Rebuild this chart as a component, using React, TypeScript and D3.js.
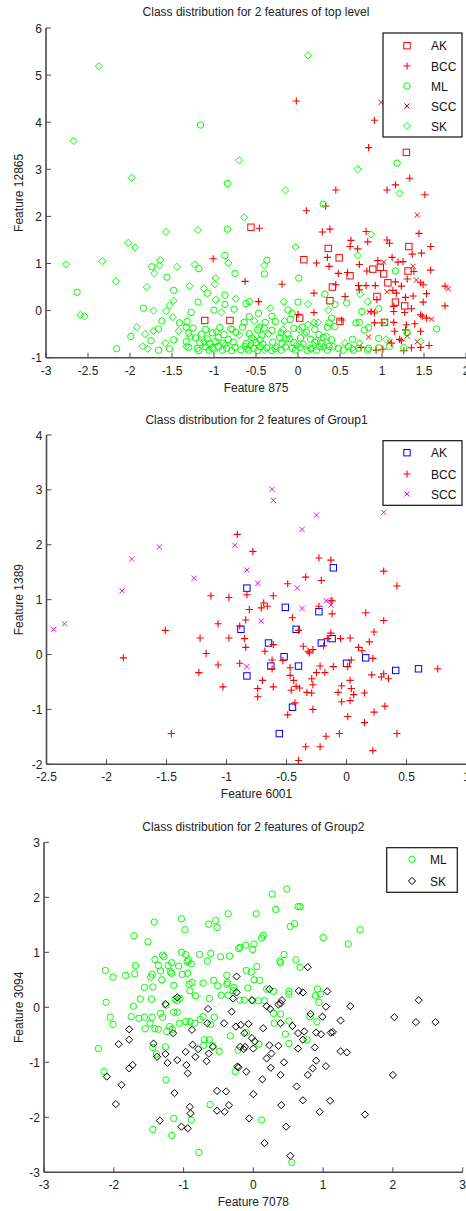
import React from "react";
import * as d3 from "d3";

type Pt = [number, number];

// ---------------- Panel 1: top level ----------------
const topXTicks = [-3, -2.5, -2, -1.5, -1, -0.5, 0, 0.5, 1, 1.5, 2];
const topYTicks = [-1, 0, 1, 2, 3, 4, 5, 6];

const topAK: Pt[] = [
  [-0.56, 1.77], [0.36, 1.32], [0.07, 1.08], [1.29, 3.36], [1.32, 1.36], [0.49, 1.12], [0.89, 0.88],
  [0.98, 0.92], [1.02, 0.78], [1.31, 0.84], [0.62, 0.74], [1.07, 0.59], [0.41, 0.5], [0.94, 0.3],
  [0.38, 0.21], [1.16, 0.18], [1.27, 0.1], [0.5, -0.23], [1.03, -0.25], [0.02, -0.16], [-1.11, -0.21],
  [-0.81, -0.21],
];

const topBCC: Pt[] = [
  [-0.02, 4.45], [0.91, 4.04], [0.84, 3.46], [1.33, 2.81], [1.16, 2.67], [1.06, 2.56], [1.51, 2.46],
  [0.45, 2.56], [0.38, 1.73], [0.81, 1.68], [1.44, 1.64], [0.63, 1.49], [0.62, 1.36], [0.83, 1.46],
  [1.06, 1.5], [1.09, 1.43], [0.71, 1.31], [1.58, 1.36], [1.36, 1.2], [1.47, 1.22], [0.35, 1.13],
  [1.12, 1.13], [0.95, 1.06], [1.19, 1.03], [1.25, 1.04], [0.73, 0.98], [0.37, 0.94], [1.38, 0.83],
  [1.58, 0.86], [0.48, 0.79], [0.82, 0.84], [0.59, 0.81], [1.3, 0.67], [1.16, 0.61], [1.46, 0.59],
  [1.49, 0.55], [0.45, 0.55], [0.72, 0.53], [0.81, 0.53], [0.92, 0.53], [1.23, 0.52], [1.75, 0.52],
  [0.73, 0.44], [1.17, 0.37], [1.13, 0.43], [1.53, 0.36], [0.56, 0.3], [1.28, 0.28], [1.37, 0.31],
  [0.94, 0.23], [1.49, 0.18], [1.75, 0.1], [1.14, 0.09], [1.14, -0.02], [1.27, -0.04], [0.87, -0.02],
  [0.91, -0.05], [1.35, 0.04], [1.46, -0.09], [1.48, -0.12], [1.53, -0.16], [0.52, -0.2], [0.91, -0.26],
  [1.0, -0.26], [1.14, -0.25], [1.29, -0.3], [1.28, -0.41], [1.39, -0.28], [1.15, -0.44], [1.46, -0.44],
  [1.56, -0.74], [1.21, -0.61], [1.23, -0.64], [1.11, -0.69], [0.75, -0.78], [1.35, -0.79], [0.93, -0.84],
  [1.26, -0.85], [1.46, -0.78], [1.01, -0.82], [0.1, 2.12], [0.33, 2.22], [-0.46, 1.75], [0.29, 1.67],
  [-1.01, 1.1], [0.22, 1.01], [-0.63, 0.62], [-0.19, 0.56], [0.19, 0.37], [-0.47, 0.19], [0.0, -0.08],
  [0.19, -0.04],
];

const topML: Pt[] = [
  [-1.16, 3.94], [-0.84, 2.7], [1.18, 3.13], [1.16, 0.84], [0.32, 0.35], [0.44, 0.13], [0.58, 0.16],
  [0.76, -0.02], [0.96, 0.04], [0.4, -0.16], [0.37, -0.26], [0.35, -0.35], [0.44, -0.34], [0.69, -0.26],
  [0.73, -0.25], [0.79, -0.41], [0.84, -0.36], [1.3, -0.47], [1.65, -0.39], [1.26, -0.79], [1.09, -0.76],
  [0.96, -0.79], [0.84, -0.8], [0.65, -0.61], [0.34, -0.55], [0.4, -0.62], [0.37, -0.76], [0.48, -0.8],
  [0.54, -0.84], [0.6, -0.76], [0.66, -0.84], [0.72, -0.8], [0.83, -0.84], [0.96, -0.59], [1.03, -0.25],
  [0.3, 2.26], [-0.84, 1.73], [-0.87, 1.17], [-0.37, 1.07], [-1.18, 0.89], [-0.4, 0.78], [-0.75, 0.79],
  [-1.08, 0.37], [0.01, 0.69], [-0.87, 0.33], [-1.19, 0.18], [-0.62, 0.15], [-0.58, 0.19], [0.0, 0.18],
  [-0.87, 0.13], [-1.0, 0.01], [-0.76, 0.03], [-0.47, -0.06], [-0.31, -0.12], [-0.12, 0.01], [-0.07, -0.06],
  [-1.27, -0.04], [-0.58, -0.13], [-0.64, -0.25], [-0.39, -0.25], [-0.27, -0.23], [-0.09, -0.19],
  [-1.32, -0.23], [-2.63, 0.39], [-1.74, 0.93], [-1.56, 0.71], [-1.48, 0.43], [-1.84, 0.05], [-1.41, -0.26],
  [-1.62, -0.22], [-1.66, -0.39], [-1.99, -0.55], [-1.75, -0.64], [-2.16, -0.81], [-1.66, -0.84],
  [-1.53, -0.81], [-1.48, -0.62], [-1.33, -0.35], [-1.33, -0.66],
  [-1.25, -0.37], [-1.1, -0.4], [-0.93, -0.36], [-0.8, -0.39], [-0.66, -0.35], [-0.48, -0.41], [-0.4, -0.37],
  [-0.31, -0.42], [-0.05, -0.38], [0.05, -0.35], [0.2, -0.4], [-1.3, -0.48], [-1.15, -0.5], [-1.02, -0.47],
  [-0.88, -0.51], [-0.74, -0.46], [-0.58, -0.49], [-0.43, -0.52], [-0.2, -0.47], [-0.12, -0.5], [0.1, -0.46],
  [0.25, -0.51], [-1.22, -0.58], [-1.08, -0.6], [-0.95, -0.57], [-0.83, -0.61], [-0.55, -0.58], [-0.45, -0.62],
  [-0.22, -0.57], [-0.1, -0.6], [0.03, -0.58], [0.15, -0.61], [0.3, -0.57], [-1.17, -0.68], [-1.05, -0.7],
  [-0.98, -0.66], [-0.89, -0.69], [-0.77, -0.67], [-0.62, -0.7], [-0.5, -0.68], [-0.42, -0.71], [-0.3, -0.67],
  [-0.19, -0.7], [-0.05, -0.68], [0.06, -0.71], [0.2, -0.67], [0.28, -0.7], [-1.3, -0.78], [-1.2, -0.8],
  [-1.1, -0.77], [-1.02, -0.79], [-0.95, -0.76], [-0.85, -0.8], [-0.75, -0.78], [-0.63, -0.76], [-0.53, -0.8],
  [-0.45, -0.77], [-0.37, -0.79], [-0.27, -0.81], [-0.15, -0.77], [-0.07, -0.8], [0.03, -0.78], [0.15, -0.8],
  [0.26, -0.77], [-1.06, -0.84], [-0.79, -0.85], [-0.59, -0.84], [-0.31, -0.85], [-0.03, -0.84], [0.11, -0.85],
  [-0.68, -0.83], [-0.2, -0.84], [0.35, -0.84], [-0.9, -0.84], [-0.48, -0.85], [0.22, -0.84], [-1.18, -0.85],
];

const topSCC: Pt[] = [
  [0.99, 4.42], [1.42, 2.03], [1.02, 1.03], [1.37, 0.94], [1.41, 0.65], [1.79, 0.46], [1.06, 0.4],
  [1.59, -0.18], [0.85, -0.03], [0.84, -0.56], [1.09, -0.67], [1.3, -0.54], [1.42, -0.66],
];

const topSK: Pt[] = [
  [-2.37, 5.19], [-2.67, 3.6], [-1.98, 2.82], [-0.7, 3.19], [-0.15, 2.55], [0.12, 5.42], [0.71, 3.0],
  [1.21, 2.49], [0.87, 1.62], [0.71, 1.17], [0.74, 0.35], [0.83, 0.19], [0.36, 0.01], [1.3, -0.48],
  [1.46, -0.66], [1.05, -0.61], [0.73, -0.69], [0.64, -0.8], [0.42, -0.76], [0.56, -0.69], [-0.64, 1.98],
  [-1.19, 1.71], [-0.03, 1.35], [-0.83, 1.01], [-0.4, 0.96], [-1.23, 0.98], [-0.98, 0.69], [-0.99, 0.56],
  [-1.29, 0.52], [-1.12, 0.47], [-0.98, 0.23], [-0.74, 0.25], [-0.33, 0.05], [-0.17, 0.19], [0.12, 0.14],
  [-0.91, -0.04], [-0.52, -0.22], [-0.16, -0.22], [0.19, -0.25], [0.24, -0.25], [-2.76, 0.98], [-2.33, 1.05],
  [-2.02, 1.44], [-1.94, 1.34], [-1.57, 1.67], [-2.17, 0.62], [-2.59, -0.09], [-2.54, -0.12], [-1.8, 0.5],
  [-1.65, 0.96], [-1.64, 1.07], [-1.71, 0.79], [-1.44, 0.93], [-1.72, 0.0], [-1.57, -0.01], [-1.53, 0.11],
  [-1.48, 0.21], [-1.49, -0.14], [-1.72, -0.43], [-1.92, -0.35], [-1.82, -0.5], [-1.85, -0.76], [-1.79, -0.81],
  [-1.58, -0.69], [-1.42, -0.43], [-1.28, -0.55], [-1.12, -0.66], [-0.97, -0.45], [-0.86, -0.72], [-0.7, -0.52],
  [-0.6, -0.8], [-0.52, -0.62], [-0.35, -0.5], [-0.26, -0.76], [-0.14, -0.6], [-0.02, -0.73], [0.08, -0.5],
  [0.16, -0.82], [0.22, -0.64], [0.3, -0.77], [-0.78, -0.4], [-0.46, -0.35], [-1.0, -0.82], [-0.4, -0.84],
  [0.01, -0.4], [0.12, -0.3], [-0.18, -0.4], [-0.57, -0.74], [-1.33, -0.76],
];

// ---------------- Panel 2: Group1 ----------------
const g1XTicks = [-2.5, -2, -1.5, -1, -0.5, 0, 0.5, 1];
const g1YTicks = [-2, -1, 0, 1, 2, 3, 4];

const g1AK: Pt[] = [
  [-0.83, 1.21], [-0.88, 0.46], [-0.83, -0.39], [-0.65, 0.21], [-0.63, -0.21], [-0.52, -0.04], [-0.51, 0.86],
  [-0.42, 0.46], [-0.4, -0.21], [-0.45, -0.96], [-0.56, -1.44], [-0.23, 0.78], [-0.21, 0.21], [-0.12, 0.29],
  [-0.11, 1.58], [0.0, -0.16], [0.16, -0.06], [0.41, -0.29], [0.6, -0.26],
];

const g1BCC: Pt[] = [
  [-0.91, 2.19], [-0.78, 1.88], [-0.23, 1.76], [-0.13, 1.72], [0.31, 1.52], [0.42, 1.25], [-0.34, 1.41],
  [-0.21, 1.35], [-0.49, 1.29], [-1.13, 1.07], [-0.98, 1.04], [-0.83, 1.09], [-0.61, 1.07], [-0.81, 0.82],
  [-0.71, 0.85], [-0.66, 0.88], [-0.23, 0.88], [-0.13, 0.98], [-0.12, 0.74], [-0.45, 0.67], [0.16, 0.76],
  [0.31, 0.62], [-1.07, 0.56], [-0.89, 0.52], [-1.51, 0.44], [-1.22, 0.3], [-0.98, 0.3], [-0.85, 0.29],
  [-0.84, 0.13], [-0.61, 0.18], [-0.68, 0.06], [-0.4, 0.44], [-0.36, 0.15], [-0.32, 0.06], [-0.28, 0.09],
  [-0.31, 0.03], [-0.19, 0.16], [-0.16, 0.29], [-0.13, 0.39], [-0.05, 0.29], [0.03, 0.3], [0.23, 0.41],
  [0.19, 0.23], [0.1, 0.13], [0.13, 0.07], [0.22, -0.07], [0.04, -0.1], [0.01, -0.22], [-1.17, 0.02],
  [-1.86, -0.06], [-1.23, -0.33], [-1.07, -0.19], [-0.89, -0.16], [-0.62, -0.1], [-0.53, -0.11], [-0.47, -0.24],
  [-0.62, -0.26], [-0.47, -0.38], [-0.22, -0.21], [-0.25, -0.33], [-0.18, -0.33], [-0.11, -0.22], [-0.29, -0.44],
  [-0.28, -0.55], [-0.44, -0.47], [-0.42, -0.58], [-0.39, -0.61], [-0.46, -0.65], [-0.7, -0.47], [-0.74, -0.62],
  [-0.74, -0.77], [-0.61, -0.59], [-1.03, -0.59], [-0.33, -0.69], [-0.29, -0.7], [0.03, -0.47], [0.04, -0.62],
  [-0.04, -0.57], [-0.07, -0.69], [0.06, -0.73], [0.15, -0.7], [0.21, -0.37], [0.29, -0.41], [0.31, -0.35],
  [0.35, -0.44], [-0.04, -0.86], [0.03, -0.84], [-0.43, -0.88], [-0.49, -1.1], [-0.28, -1.0], [0.01, -1.13],
  [0.23, -1.05], [0.32, -0.94], [0.15, -1.24], [0.42, -1.44], [-1.46, -1.44], [-0.17, -1.49], [-0.06, -1.44],
  [-0.34, -1.68], [-0.22, -1.68], [0.22, -1.75], [-0.4, -1.93], [0.76, -0.26], [-0.12, 0.98], [-0.69, 0.94],
  [-0.84, 0.63],
];

const g1SCC: Pt[] = [
  [-2.44, 0.46], [-2.35, 0.56], [-1.87, 1.16], [-1.79, 1.74], [-1.56, 1.96], [-1.27, 1.39], [-0.93, 1.99],
  [-0.83, 1.54], [-0.74, 1.3], [-0.71, 0.61], [-0.83, -0.22], [-0.62, 3.01], [-0.61, 2.81], [-0.41, 1.21],
  [-0.37, 2.28], [-0.37, 0.84], [-0.25, 2.54], [-0.17, 0.98], [-0.13, 0.9], [0.31, 2.59],
];

// ---------------- Panel 3: Group2 ----------------
const g2XTicks = [-3, -2, -1, 0, 1, 2, 3];
const g2YTicks = [-3, -2, -1, 0, 1, 2, 3];

const g2ML: Pt[] = [
  [-2.12, 0.67], [-2.01, 0.55], [-1.83, 0.58], [-1.71, 1.3], [-1.7, 0.61], [-1.69, 0.76], [-1.72, 0.02],
  [-2.11, 0.09], [-1.62, 0.15], [-1.56, 0.36], [-1.51, 1.19], [-1.46, 0.15], [-1.47, 0.55], [-1.45, 0.6],
  [-1.44, 0.37], [-1.42, 1.55], [-1.41, 0.87], [-1.36, 0.76], [-1.33, 0.66], [-1.31, 0.5], [-1.3, 0.95],
  [-1.28, 0.92], [-1.25, 0.04], [-1.22, 0.76], [-1.19, 0.65], [-1.17, 0.62], [-1.17, 0.81], [-1.14, 0.4],
  [-1.07, 0.75], [-1.03, 1.61], [-1.03, 1.0], [-1.02, 0.6], [-0.98, 1.41], [-0.97, 0.96], [-0.95, 0.83],
  [-0.94, 0.62], [-0.93, 0.86], [-0.92, 0.42], [-0.91, 0.3], [-0.89, 0.79], [-0.88, 0.45], [-0.83, 0.21],
  [-0.77, 0.96], [-0.72, 0.44], [-0.66, 0.84], [-0.64, 1.51], [-0.63, 0.16], [-0.61, 0.98], [-0.57, 0.49],
  [-0.54, 1.58], [-0.52, 1.45], [-0.51, 0.39], [-0.47, 0.92], [-0.46, 0.22], [-0.37, 0.45], [-0.36, 1.7],
  [-0.36, 0.22], [-0.34, 0.93], [-0.21, 1.07], [-0.19, 1.09], [-0.11, 1.13], [-0.1, 0.67], [-0.03, 0.64],
  [-0.01, 1.05], [0.01, 1.15], [0.04, 1.7], [0.05, 0.74], [0.01, 0.5], [0.09, 0.49], [0.12, 1.26],
  [0.14, 1.31], [0.27, 2.06], [0.32, 1.78], [0.38, 0.84], [0.39, 0.81], [0.44, 0.96], [0.48, 2.15],
  [0.53, 1.47], [0.59, 1.52], [0.61, 0.86], [0.64, 1.83], [0.67, 1.83], [0.67, 0.73], [1.0, 1.27],
  [1.36, 1.15], [1.53, 1.41], [0.19, 0.33], [0.29, 0.29], [0.51, 0.29], [0.51, 0.24], [0.92, 0.33],
  [0.89, 0.21], [0.96, 0.24], [0.94, 0.09], [-0.08, 0.35], [-0.28, 0.36], [-0.29, 0.3], [-0.19, 0.13],
  [-0.13, 0.13], [-0.01, 0.12], [0.07, 0.12], [0.16, 0.12], [-1.12, 0.15], [-1.09, 0.12], [-1.05, 0.16],
  [-0.38, 0.58], [-0.38, 0.42], [-2.22, -0.75], [-2.14, -1.17], [-2.05, -0.18], [-2.01, -0.31],
  [-1.75, -0.17], [-1.64, -0.2], [-1.56, -0.18], [-1.55, -0.39], [-1.48, -0.29], [-1.45, -0.18],
  [-1.44, -0.73], [-1.41, -0.39], [-1.39, -0.85], [-1.36, -0.4], [-1.33, -0.11], [-1.3, -0.18],
  [-1.26, -0.72], [-1.25, -1.32], [-1.24, -0.44], [-1.2, -0.35], [-1.16, -0.4], [-1.14, -0.09],
  [-1.09, -0.09], [-1.06, -0.29], [-0.97, -0.26], [-0.91, -0.26], [-0.84, -0.29], [-0.76, -0.22],
  [-0.72, -0.17], [-0.61, -0.31], [-0.56, -0.18], [-0.7, -0.59], [-0.63, -0.59], [-0.71, -0.69],
  [-0.58, -0.7], [-0.49, -0.8], [-0.33, -0.52], [-0.26, -1.17], [-0.22, -0.78], [-0.1, -0.46], [0.08, -0.67],
  [0.12, -2.05], [0.29, -0.11], [0.39, -0.12], [0.3, -0.29], [0.46, -0.49], [0.51, -0.66], [0.51, -0.25],
  [0.77, -0.59], [0.81, -0.17], [0.91, -0.26], [-1.14, -2.02], [-0.89, -2.05], [-1.17, -2.33],
  [-1.44, -2.22], [-0.62, -1.77], [-0.78, -2.64], [0.55, -2.82],
];

const g2SK: Pt[] = [
  [-1.26, 0.06], [-1.09, 0.18], [-0.24, 0.56], [-0.24, 0.27], [-0.29, 0.16], [-0.02, 0.13], [0.23, 0.33],
  [0.41, 0.13], [0.39, 0.07], [0.65, 0.3], [0.71, 0.27], [0.78, 0.73], [1.06, 0.29], [1.04, 0.01],
  [1.39, 0.02], [2.37, 0.13], [0.19, 0.02], [-0.65, -0.03], [0.36, 0.05], [0.24, -0.03],
  [-2.1, -1.26], [-1.97, -1.76], [-1.93, -0.67], [-1.89, -1.41], [-1.78, -0.4], [-1.78, -0.59], [-1.78, -1.11],
  [-1.73, -1.05], [-1.43, -0.66], [-1.38, -0.9], [-1.34, -2.06], [-1.26, -0.85], [-1.23, -1.01], [-1.15, -0.47],
  [-1.13, -1.56], [-1.09, -0.96], [-1.03, -2.17], [-0.97, -0.81], [-0.96, -1.05], [-0.94, -1.2], [-0.94, -2.2],
  [-0.91, -1.81], [-0.9, -1.93], [-0.88, -0.41], [-0.87, -0.68], [-0.83, -0.9], [-0.79, -0.76], [-0.67, -0.98],
  [-0.64, -0.84], [-0.58, -0.72], [-0.52, -1.52], [-0.52, -1.88], [-0.41, -1.9], [-0.39, -1.53], [-0.42, -0.29],
  [-0.35, -1.78], [-0.31, -0.08], [-0.25, -0.35], [-0.23, -1.08], [-0.18, -0.32], [-0.14, -0.76], [-0.13, -0.47],
  [-0.1, -1.17], [-0.07, -0.3], [-0.06, -2.02], [-0.02, -0.56], [0.0, -1.58], [0.0, -0.75], [0.02, -0.62],
  [0.13, -1.31], [0.14, -0.38], [0.16, -2.47], [0.19, -0.93], [0.23, -0.69], [0.25, -1.1], [0.26, -0.84],
  [0.36, -0.7], [0.39, -0.29], [0.39, -1.23], [0.4, -1.78], [0.44, -1.0], [0.47, -2.17], [0.53, -2.7],
  [0.56, -0.34], [0.62, -1.44], [0.64, -0.75], [0.64, -0.47], [0.71, -1.69], [0.73, -0.44], [0.71, -0.59],
  [0.78, -1.23], [0.82, -0.12], [0.85, -1.11], [0.88, -0.73], [0.9, -0.46], [0.9, -0.97], [0.95, -1.9],
  [0.99, -0.17], [0.97, -0.49], [1.04, -1.07], [1.1, -1.7], [1.11, -0.46], [1.14, -0.45], [1.25, -0.24],
  [1.25, -0.8], [1.34, -0.82], [1.6, -1.95], [2.0, -1.23], [2.02, -0.18], [2.33, -0.27], [2.61, -0.27],
  [-0.66, -0.29], [-0.19, -0.72], [-0.21, -1.09], [-0.12, -0.72],
];

// ---------------- rendering ----------------
type Kind = "square" | "plus" | "circle" | "cross" | "diamond";

function Marker({ kind, x, y, color }: { kind: Kind; x: number; y: number; color: string }) {
  if (kind === "square")
    return <rect x={x - 3.2} y={y - 3.2} width={6.4} height={6.4} fill="none" stroke={color} strokeWidth={1} />;
  if (kind === "plus")
    return <path d={`M${x - 3.6},${y}H${x + 3.6}M${x},${y - 3.6}V${y + 3.6}`} stroke={color} strokeWidth={1.1} fill="none" />;
  if (kind === "circle") return <circle cx={x} cy={y} r={3.2} fill="none" stroke={color} strokeWidth={1} />;
  if (kind === "cross")
    return (
      <path d={`M${x - 2.6},${y - 2.6}L${x + 2.6},${y + 2.6}M${x - 2.6},${y + 2.6}L${x + 2.6},${y - 2.6}`} stroke={color} strokeWidth={1} fill="none" />
    );
  return <path d={`M${x},${y - 3.6}L${x + 3.6},${y}L${x},${y + 3.6}L${x - 3.6},${y}Z`} fill="none" stroke={color} strokeWidth={1} />;
}

interface Series { name: string; kind: Kind; color: string; data: Pt[] }
interface PanelProps {
  title: string; xlabel: string; ylabel: string;
  left: number; right: number; top: number; bottom: number;
  xDomain: [number, number]; yDomain: [number, number];
  xTicks: number[]; yTicks: number[];
  series: Series[];
  legend: { x0: number; x1: number; y0: number; y1: number; mx: number; tx: number; rows: number[] };
  titleY: number; xlabelY: number;
}

const FONT = "'Liberation Sans', Arial, Helvetica, sans-serif";
const AXIS = "#4a4a4a";

function Panel(p: PanelProps) {
  const x = d3.scaleLinear().domain(p.xDomain).range([p.left, p.right]);
  const y = d3.scaleLinear().domain(p.yDomain).range([p.bottom, p.top]);
  const cx = (p.left + p.right) / 2;
  const cy = (p.top + p.bottom) / 2;
  return (
    <g>
      <text x={cx} y={p.titleY} textAnchor="middle" fontSize={12} fill="#222">{p.title}</text>
      {p.series.map((s) => (
        <g key={s.name}>
          {s.data.map((d, i) => (
            <Marker key={i} kind={s.kind} x={x(d[0])} y={y(d[1])} color={s.color} />
          ))}
        </g>
      ))}
      <line x1={p.left} x2={p.left} y1={p.top} y2={p.bottom} stroke={AXIS} strokeWidth={1.6} />
      <line x1={p.left} x2={p.right} y1={p.bottom} y2={p.bottom} stroke={AXIS} strokeWidth={1.6} />
      {p.xTicks.map((t) => (
        <g key={"x" + t}>
          <line x1={x(t)} x2={x(t)} y1={p.bottom} y2={p.bottom - 5} stroke={AXIS} strokeWidth={1} />
          <text x={x(t)} y={p.bottom + 17} textAnchor="middle" fontSize={12} fill="#222">{String(t)}</text>
        </g>
      ))}
      {p.yTicks.map((t) => (
        <g key={"y" + t}>
          <line x1={p.left} x2={p.left + 5} y1={y(t)} y2={y(t)} stroke={AXIS} strokeWidth={1} />
          <text x={p.left - 4} y={y(t) + 4.5} textAnchor="end" fontSize={12} fill="#222">{String(t)}</text>
        </g>
      ))}
      <text x={cx} y={p.xlabelY} textAnchor="middle" fontSize={12} fill="#222">{p.xlabel}</text>
      <text transform={`translate(23,${cy}) rotate(-90)`} textAnchor="middle" fontSize={12} fill="#222">{p.ylabel}</text>
      <rect x={p.legend.x0} y={p.legend.y0} width={p.legend.x1 - p.legend.x0} height={p.legend.y1 - p.legend.y0}
        fill="#fff" stroke="#111" strokeWidth={1.2} />
      {p.series.map((s, i) => (
        <g key={"lg" + s.name}>
          <Marker kind={s.kind} x={p.legend.mx} y={p.legend.rows[i]} color={s.color} />
          <text x={p.legend.tx} y={p.legend.rows[i] + 4.5} fontSize={12} fill="#111">{s.name}</text>
        </g>
      ))}
    </g>
  );
}

export default function App() {
  return (
    <svg width={466} height={1211} viewBox="0 0 466 1211"
      style={{ position: "absolute", left: 0, top: 0, display: "block", background: "#fff" }}
      fontFamily={FONT}>
      <rect x={0} y={0} width={466} height={1211} fill="#fff" />
      <Panel
        title="Class distribution for 2 features of top level" xlabel="Feature 875" ylabel="Feature 12865"
        left={46} right={466} top={28} bottom={357.7} xDomain={[-3, 2]} yDomain={[-1, 6]}
        xTicks={topXTicks} yTicks={topYTicks} titleY={16} xlabelY={392}
        series={[
          { name: "AK", kind: "square", color: "#ff0000", data: topAK },
          { name: "BCC", kind: "plus", color: "#ff0000", data: topBCC },
          { name: "ML", kind: "circle", color: "#00ff00", data: topML },
          { name: "SCC", kind: "cross", color: "#ff0000", data: topSCC },
          { name: "SK", kind: "diamond", color: "#00ff00", data: topSK },
        ]}
        legend={{ x0: 383, x1: 462, y0: 33, y1: 137, mx: 407, tx: 431, rows: [45.7, 66, 86, 106, 126] }}
      />
      <Panel
        title="Class distribution for 2 features of Group1" xlabel="Feature 6001" ylabel="Feature 1389"
        left={46.5} right={466.5} top={435} bottom={764.3} xDomain={[-2.5, 1]} yDomain={[-2, 4]}
        xTicks={g1XTicks} yTicks={g1YTicks} titleY={424} xlabelY={798}
        series={[
          { name: "AK", kind: "square", color: "#0000ff", data: g1AK },
          { name: "BCC", kind: "plus", color: "#ff0000", data: g1BCC },
          { name: "SCC", kind: "cross", color: "#ff00ff", data: g1SCC },
        ]}
        legend={{ x0: 383, x1: 462, y0: 440.7, y1: 505.3, mx: 407, tx: 431, rows: [452.7, 474, 494] }}
      />
      <Panel
        title="Class distribution for 2 features of Group2" xlabel="Feature 7078" ylabel="Feature 3094"
        left={44} right={462.7} top={842.3} bottom={1172.3} xDomain={[-3, 3]} yDomain={[-3, 3]}
        xTicks={g2XTicks} yTicks={g2YTicks} titleY={830.7} xlabelY={1205.5}
        series={[
          { name: "ML", kind: "circle", color: "#00ff00", data: g2ML },
          { name: "SK", kind: "diamond", color: "#000000", data: g2SK },
        ]}
        legend={{ x0: 386.7, x1: 457.3, y0: 847.7, y1: 892.3, mx: 412, tx: 430, rows: [859.3, 881] }}
      />
    </svg>
  );
}
